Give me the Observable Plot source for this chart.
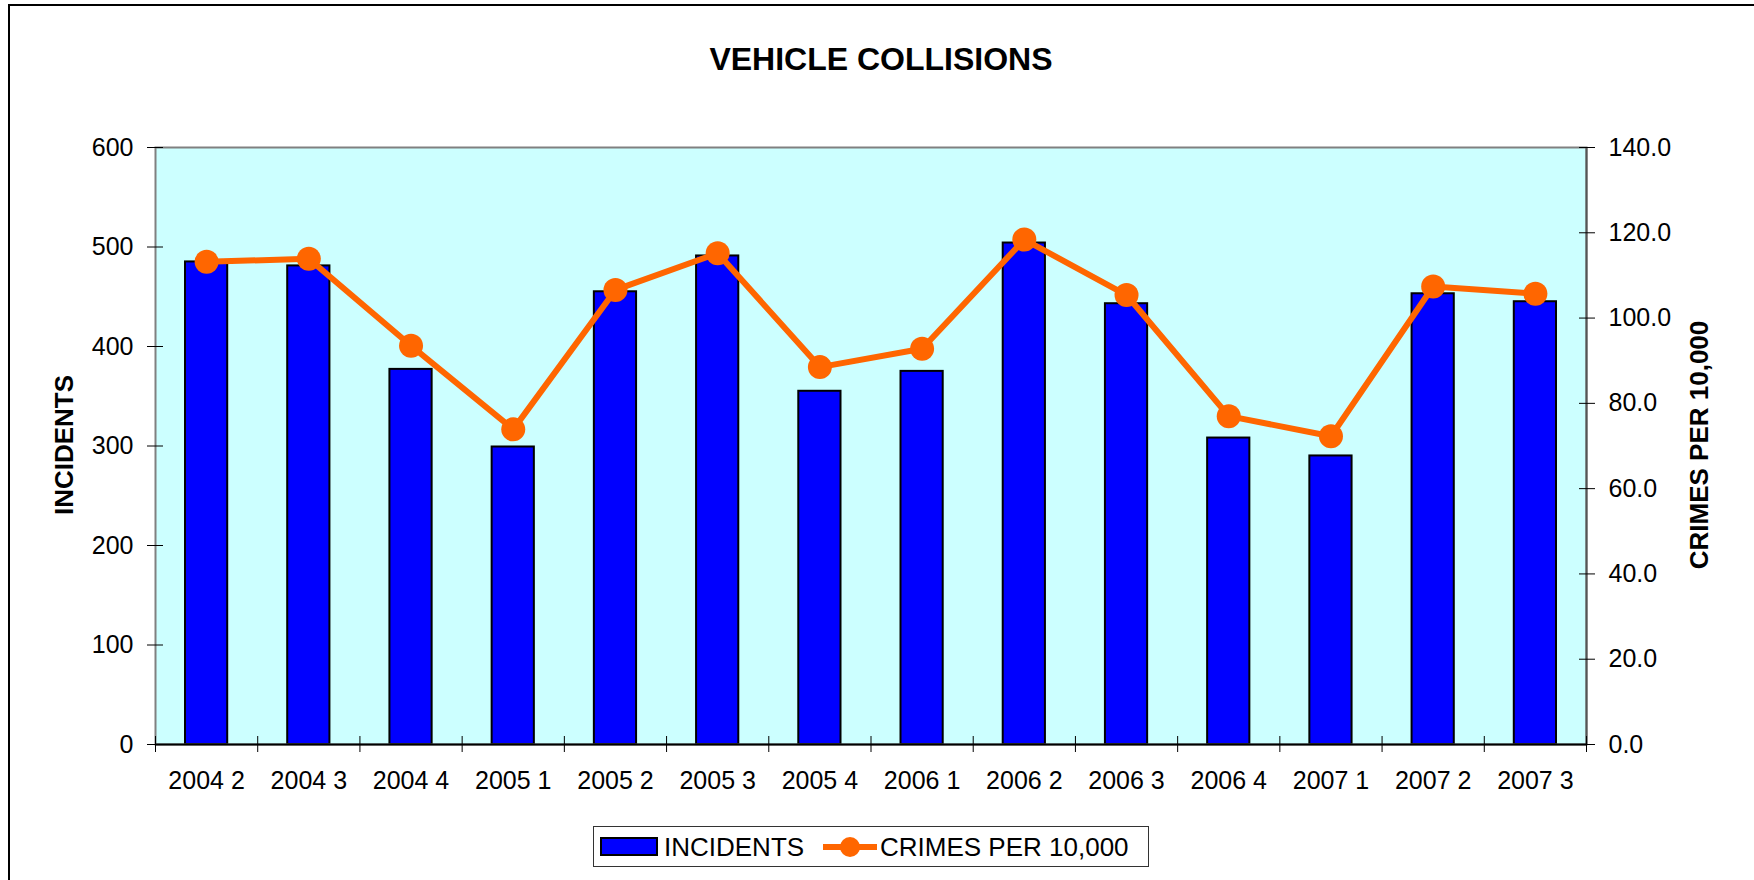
<!DOCTYPE html>
<html>
<head>
<meta charset="utf-8">
<script src="https://cdn.jsdelivr.net/npm/d3@7"></script>
<script src="https://cdn.jsdelivr.net/npm/@observablehq/plot@0.6"></script>
<style>
html, body { margin:0; padding:0; background:#fff; width:1754px; height:880px; overflow:hidden; font-family:"Liberation Sans", Arial, sans-serif; color:#000; }
#outer { position:absolute; left:8px; top:4px; width:1800px; height:1000px; border:2px solid #000; box-sizing:border-box; }
#chart { position:absolute; left:0; top:0; }
#title { position:absolute; left:0; width:1762px; top:43px; text-align:center; font-weight:bold; font-size:32px; line-height:32px; white-space:nowrap; }
.ytitle { position:absolute; font-weight:bold; font-size:26px; line-height:26px; white-space:nowrap; transform:translate(-50%,-50%) rotate(-90deg); }
#legend { position:absolute; left:593px; top:826px; width:556px; height:41px; border:1px solid #333; box-sizing:border-box; background:#fff; }
#legend .item { position:absolute; font-size:26px; line-height:26px; top:7px; white-space:nowrap; }
#legend .sw-bar { position:absolute; left:6px; top:10px; width:58px; height:19px; background:#0000FF; border:2px solid #000; box-sizing:border-box; }
</style>
</head>
<body>
<div id="outer"></div>
<div id="chart"></div>
<div id="title">VEHICLE COLLISIONS</div>
<div class="ytitle" style="left:64px; top:445px;">INCIDENTS</div>
<div class="ytitle" style="left:1699px; top:445px;">CRIMES PER 10,000</div>
<div id="legend">
  <div class="sw-bar"></div>
  <div class="item" style="left:70px;">INCIDENTS</div>
  <svg style="position:absolute; left:228px; top:8px;" width="56" height="24">
    <line x1="1" y1="12" x2="55" y2="12" stroke="#FF6600" stroke-width="6"></line>
    <circle cx="28" cy="12" r="10" fill="#FF6600"></circle>
  </svg>
  <div class="item" style="left:286px;">CRIMES PER 10,000</div>
</div>
<script>
const categories = ["2004 2","2004 3","2004 4","2005 1","2005 2","2005 3","2005 4","2006 1","2006 2","2006 3","2006 4","2007 1","2007 2","2007 3"];
const incidents = [485, 481, 377, 299, 455, 491, 355, 375, 504, 443, 308, 290, 453, 445];
const crimesPer10k = [113.2, 113.9, 93.5, 73.9, 106.6, 115.2, 88.5, 92.8, 118.4, 105.4, 77.0, 72.3, 107.4, 105.7];
const leftTicks = [0, 100, 200, 300, 400, 500, 600];
const rightTicks = [0, 20, 40, 60, 80, 100, 120, 140];

const LEFT_MAX = leftTicks[leftTicks.length - 1];
const RIGHT_MAX = rightTicks[rightTicks.length - 1];
const k = LEFT_MAX / RIGHT_MAX;
const rows = categories.map((c, i) => ({ idx: i, cat: c, incidents: incidents[i], rate: crimesPer10k[i] }));

const chart = Plot.plot({
  width: 1754,
  height: 800,
  marginTop: 147,
  marginBottom: 56,
  marginLeft: 155,
  marginRight: 168,
  style: { fontFamily: '"Liberation Sans", Arial, sans-serif', fontSize: "25px", color: "#000", background: "transparent", overflow: "visible" },
  x: { type: "linear", domain: [0, categories.length], axis: null },
  y: { domain: [0, LEFT_MAX], axis: null, label: null },
  marks: [
    Plot.frame({ fill: "#CCFFFF", stroke: null }),
    Plot.rectY(rows, { x1: "idx", x2: d => d.idx + 1, y1: 0, y2: "incidents", insetLeft: 30, insetRight: 30, fill: "#0000FF", stroke: "#000", strokeWidth: 2 }),
    Plot.frame({ stroke: "#808080", strokeWidth: 2 }),
    Plot.ruleX([categories.length], { stroke: "#555", strokeWidth: 2 }),
    Plot.ruleY([0], { stroke: "#000", strokeWidth: 2 }),
    Plot.line(rows, { x: d => d.idx + 0.5, y: d => d.rate * k, stroke: "#FF6600", strokeWidth: 6, strokeLinejoin: "round" }),
    Plot.dot(rows, { x: d => d.idx + 0.5, y: d => d.rate * k, r: 12, fill: "#FF6600", stroke: null }),
    Plot.axisY(leftTicks, { anchor: "left", tickSize: 16, dx: 8, tickPadding: 14, fontSize: 25, label: null }),
    Plot.axisY(rightTicks.map(v => v * k), { anchor: "right", tickSize: 16, dx: -8, tickPadding: 14, fontSize: 25, label: null, tickFormat: v => (v / k).toFixed(1) }),
    Plot.axisX(d3.range(categories.length + 1), { anchor: "bottom", tickSize: 16, dy: -8, tickFormat: () => "", label: null }),
    Plot.axisX(categories.map((c, i) => i + 0.5), { anchor: "bottom", tickSize: 0, tickPadding: 27, fontSize: 25, label: null, tickFormat: v => categories[Math.floor(v)] })
  ]
});
document.getElementById("chart").appendChild(chart);
</script>
</body>
</html>
